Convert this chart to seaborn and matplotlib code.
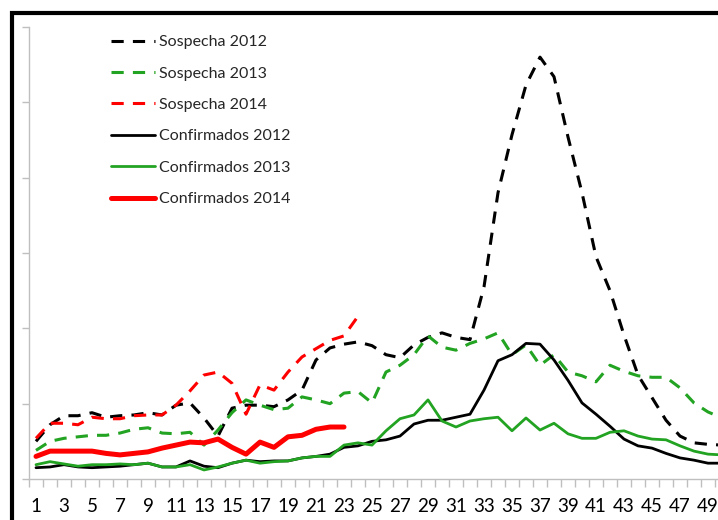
import numpy as np
import pandas as pd
import matplotlib
matplotlib.use("Agg")
import matplotlib.pyplot as plt
from matplotlib.patches import Rectangle
import seaborn as sns

sns.set_style("white")
plt.rcParams["font.family"] = ["Lato", "DejaVu Sans"]

weeks = list(range(1, 51))
weeks_2014_s = list(range(1, 25))
weeks_2014_c = list(range(1, 24))

sospecha_2012 = [50, 72, 84, 84, 88, 82, 84, 85, 88, 85, 98, 101, 81, 57, 94, 98, 98, 96, 105, 118,
                 158, 174, 179, 182, 177, 165, 161, 178, 188, 194, 188, 185, 255, 380, 457, 523, 560, 534, 454, 380,
                 295, 250, 191, 138, 108, 78, 57, 48, 46, 45]
sospecha_2013 = [38, 50, 54, 56, 58, 58, 61, 66, 68, 61, 60, 62, 45, 65, 88, 105, 98, 92, 94, 109,
                 105, 100, 114, 116, 101, 142, 151, 165, 190, 175, 171, 180, 186, 194, 165, 178, 151, 165, 142, 137,
                 129, 151, 143, 137, 135, 135, 121, 101, 89, 81]
sospecha_2014 = [54, 74, 74, 72, 82, 80, 80, 84, 85, 85, 98, 117, 138, 142, 127, 86, 125, 118, 142, 162,
                 173, 184, 190, 216]
confirmados_2012 = [15, 16, 19, 16, 15, 16, 17, 19, 21, 16, 16, 24, 17, 15, 21, 25, 23, 24, 24, 28,
                    30, 33, 42, 44, 50, 52, 57, 73, 78, 78, 82, 86, 118, 157, 165, 180, 179, 158, 131, 101,
                    86, 70, 53, 44, 41, 34, 28, 25, 21, 21]
confirmados_2013 = [19, 23, 20, 17, 19, 19, 20, 19, 21, 16, 16, 19, 12, 16, 21, 25, 21, 23, 24, 28,
                    30, 30, 45, 48, 45, 64, 80, 85, 105, 77, 69, 77, 80, 82, 64, 81, 65, 74, 60, 54,
                    54, 62, 64, 57, 53, 52, 44, 37, 33, 32]
confirmados_2014 = [30, 37, 37, 37, 37, 34, 32, 34, 36, 41, 45, 49, 48, 53, 42, 33, 49, 42, 56, 58,
                    66, 69, 69]

x_labels = [str(w) for w in range(1, 50, 2)]

BLACK = "#000000"
GREEN = "#22a322"
RED = "#ff0000"

fig = plt.figure(figsize=(7.18, 5.20), dpi=100)
ax = fig.add_axes([29 / 718, 1 - 479 / 520, (718 - 29) / 718, 452 / 520])

dash = (0, (4.0, 3.0))
series = [
    ("Sospecha 2012", weeks, sospecha_2012, BLACK, dash, 2.2),
    ("Sospecha 2013", weeks, sospecha_2013, GREEN, dash, 2.2),
    ("Sospecha 2014", weeks_2014_s, sospecha_2014, RED, dash, 2.2),
    ("Confirmados 2012", weeks, confirmados_2012, BLACK, "-", 2.0),
    ("Confirmados 2013", weeks, confirmados_2013, GREEN, "-", 2.0),
    ("Confirmados 2014", weeks_2014_c, confirmados_2014, RED, "-", 3.6),
]
for name, xs, ys, col, ls, lw in series:
    df = pd.DataFrame({"semana": xs, "valor": ys})
    sns.lineplot(data=df, x="semana", y="valor", ax=ax, color=col, linestyle=ls,
                 linewidth=lw, label=name, clip_on=True)

ax.set_xlabel("")
ax.set_ylabel("")

ax.set_xticks(list(range(1, 50, 2)))
ax.set_xticklabels(x_labels, fontsize=13.5, color="#000000")
ax.set_xticks([k + 0.5 for k in range(0, 50)], minor=True)
ax.tick_params(axis="x", which="major", length=0, pad=14)
ax.tick_params(axis="x", which="minor", length=6, width=1, color="#bfbfbf", direction="out", bottom=True)
ax.set_yticks(list(range(0, 601, 100)))
ax.set_yticklabels([])
ax.tick_params(axis="y", which="major", length=5, width=1, color="#bfbfbf", direction="out", left=True)
ax.set_xlim(0.5, 0.5 + (718 - 29) / 14)
ax.set_ylim(0, 600)

for s in ["top", "right"]:
    ax.spines[s].set_visible(False)
for s in ["left", "bottom"]:
    ax.spines[s].set_color("#bfbfbf")
    ax.spines[s].set_linewidth(1)

handles, labels = ax.get_legend_handles_labels()
ax.legend(handles, labels, loc="upper left", bbox_to_anchor=(111 / 718, 1 - 35 / 520),
          bbox_transform=fig.transFigure, frameon=False, fontsize=11.5,
          handlelength=2.75, handletextpad=0.25, labelspacing=1.08,
          borderpad=0, borderaxespad=0)

fig.add_artist(Rectangle((12 / 718, -0.2), 2.0, 1.2 - 13 / 520 + 0.0, transform=fig.transFigure,
                         fill=False, edgecolor="black", linewidth=3.0, clip_on=False))

fig.savefig("out.png", dpi=100, facecolor="white")
